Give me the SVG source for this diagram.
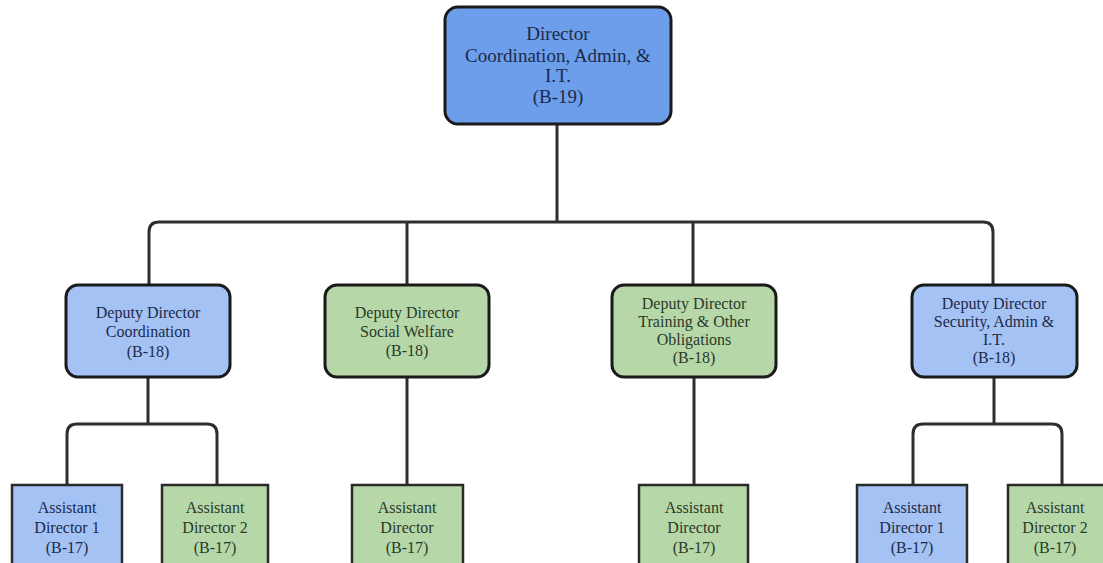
<svg xmlns="http://www.w3.org/2000/svg" width="1103" height="563" viewBox="0 0 1103 563" font-family="'Liberation Serif', 'Times New Roman', 'DejaVu Serif', serif">
<style>
.c{fill:none;stroke:#2e2e2e;stroke-width:3;stroke-linejoin:round}
.b{stroke:#1a1a1a;stroke-width:3}
.a{stroke:#2a2a2a;stroke-width:2.5}
.top{fill:#6d9eeb}
.blue{fill:#a4c2f4}
.green{fill:#b6d7a8}
text{font-family:'Liberation Serif','Times New Roman','DejaVu Serif',serif;text-anchor:middle}
.tb{fill:#1c2a4a}
.tg{fill:#2a3a2a}
.t19{font-size:19px}
.t16{font-size:16px}
</style>
<rect width="1103" height="563" fill="#ffffff"/>
<g id="connectors">
<path class="c" d="M557 124 V222"/>
<path class="c" d="M149 285 V232 Q149 222 159 222 H983 Q993 222 993 232 V285"/>
<path class="c" d="M407 222 V285"/>
<path class="c" d="M693 222 V285"/>
<path class="c" d="M148 377 V424"/>
<path class="c" d="M67 485 V434 Q67 424 77 424 H207 Q217 424 217 434 V485"/>
<path class="c" d="M407 377 V485"/>
<path class="c" d="M694 377 V485"/>
<path class="c" d="M994 377 V424"/>
<path class="c" d="M913 485 V434 Q913 424 923 424 H1052 Q1062 424 1062 434 V485"/>
</g>
<g id="director">
<rect class="b top" x="445" y="7" width="226" height="117" rx="13"/>
<text class="tb t19"><tspan x="558" y="40">Director</tspan><tspan x="558" y="62">Coordination, Admin, &amp;</tspan><tspan x="558" y="82">I.T.</tspan><tspan x="558" y="103">(B-19)</tspan></text>
</g>
<g id="dd-coordination">
<rect class="b blue" x="66" y="285" width="164" height="92" rx="12"/>
<text class="tb t16"><tspan x="148" y="318">Deputy Director</tspan><tspan x="148" y="337">Coordination</tspan><tspan x="148" y="357">(B-18)</tspan></text>
</g>
<g id="dd-social">
<rect class="b green" x="325" y="285" width="164" height="92" rx="12"/>
<text class="tg t16"><tspan x="407" y="318">Deputy Director</tspan><tspan x="407" y="337">Social Welfare</tspan><tspan x="407" y="356">(B-18)</tspan></text>
</g>
<g id="dd-training">
<rect class="b green" x="612" y="285" width="164" height="92" rx="12"/>
<text class="tg t16"><tspan x="694" y="309">Deputy Director</tspan><tspan x="694" y="327">Training &amp; Other</tspan><tspan x="694" y="345">Obligations</tspan><tspan x="694" y="363">(B-18)</tspan></text>
</g>
<g id="dd-security">
<rect class="b blue" x="912" y="285" width="165" height="92" rx="12"/>
<text class="tb t16"><tspan x="994" y="309">Deputy Director</tspan><tspan x="994" y="327">Security, Admin &amp;</tspan><tspan x="994" y="345">I.T.</tspan><tspan x="994" y="363">(B-18)</tspan></text>
</g>
<g id="ad-coord-1">
<rect class="a blue" x="12" y="485" width="110" height="90"/>
<text class="tb t16"><tspan x="67" y="513">Assistant</tspan><tspan x="67" y="533">Director 1</tspan><tspan x="67" y="553">(B-17)</tspan></text>
</g>
<g id="ad-coord-2">
<rect class="a green" x="162" y="485" width="106" height="90"/>
<text class="tg t16"><tspan x="215" y="513">Assistant</tspan><tspan x="215" y="533">Director 2</tspan><tspan x="215" y="553">(B-17)</tspan></text>
</g>
<g id="ad-social">
<rect class="a green" x="352" y="485" width="111" height="90"/>
<text class="tg t16"><tspan x="407" y="513">Assistant</tspan><tspan x="407" y="533">Director</tspan><tspan x="407" y="553">(B-17)</tspan></text>
</g>
<g id="ad-training">
<rect class="a green" x="639" y="485" width="109" height="90"/>
<text class="tg t16"><tspan x="694" y="513">Assistant</tspan><tspan x="694" y="533">Director</tspan><tspan x="694" y="553">(B-17)</tspan></text>
</g>
<g id="ad-security-1">
<rect class="a blue" x="857" y="485" width="110" height="90"/>
<text class="tb t16"><tspan x="912" y="513">Assistant</tspan><tspan x="912" y="533">Director 1</tspan><tspan x="912" y="553">(B-17)</tspan></text>
</g>
<g id="ad-security-2">
<rect class="a green" x="1008" y="485" width="110" height="90"/>
<text class="tg t16"><tspan x="1055" y="513">Assistant</tspan><tspan x="1055" y="533">Director 2</tspan><tspan x="1055" y="553">(B-17)</tspan></text>
</g>
</svg>
